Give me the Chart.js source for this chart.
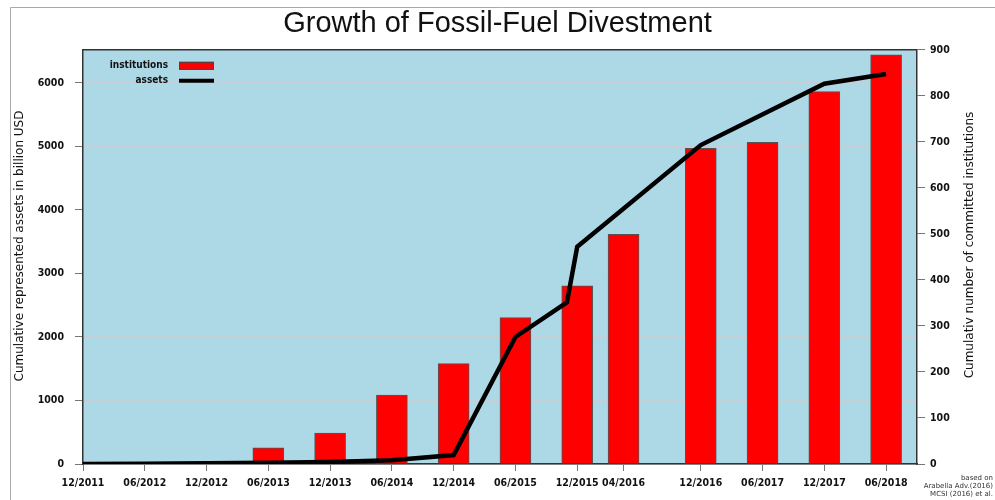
<!DOCTYPE html>
<html>
<head>
<meta charset="utf-8">
<script src="https://cdn.jsdelivr.net/npm/chart.js@4.4.1/dist/chart.umd.min.js"></script>
<style>
  body { margin: 0; background: #fff; }
  canvas { display: block; }
</style>
</head>
<body>
<canvas id="grafico" width="995" height="500"></canvas>
<script>
// months counted from 12/2011
const tickMonths = [0, 6, 12, 18, 24, 30, 36, 42, 48, 52.5, 60, 66, 72, 78];
const tickLabels = ["12/2011", "06/2012", "12/2012", "06/2013", "12/2013", "06/2014", "12/2014",
                    "06/2015", "12/2015", "04/2016", "12/2016", "06/2017", "12/2017", "06/2018"];

const institutionMonths = [18, 24, 30, 36, 42, 48, 52.5, 60, 66, 72, 78];
const institutions = [35, 67, 150, 218, 318, 387, 499, 686, 699, 809, 889];

const assetMonths = [0, 6, 12, 18, 24, 30, 36, 42, 47, 48, 60, 72, 78];
const assets = [0, 5, 10, 20, 30, 60, 140, 2000, 2545, 3420, 5020, 5985, 6140];

const assetTicks = [0, 1000, 2000, 3000, 4000, 5000, 6000];
const institutionTicks = [0, 100, 200, 300, 400, 500, 600, 700, 800, 900];

const tituloEsq = "Cumulative represented assets in billion USD";
const tituloDir = "Cumulativ number of committed institutions";

const fonteTicks = { family: "'DejaVu Sans Condensed', 'DejaVu Sans'", size: 10.5, weight: "bold" };

const pontos = (xs, ys) => xs.map((x, i) => ({ x: x, y: ys[i] }));

// background, frame, axis titles and legend
const decoracao = {
    id: "decoracao",
    beforeDraw(chart) {
        const { ctx, chartArea: a } = chart;
        ctx.save();
        ctx.fillStyle = "#add8e6";
        ctx.fillRect(a.left, a.top, a.right - a.left, a.bottom - a.top);
        ctx.strokeStyle = "#aaa";
        ctx.lineWidth = 1;
        ctx.beginPath();
        ctx.moveTo(10.5, 500);
        ctx.lineTo(10.5, 7.5);
        ctx.lineTo(995, 7.5);
        ctx.stroke();
        ctx.restore();
    },
    afterDraw(chart) {
        const { ctx, chartArea: a } = chart;
        const ds = chart.data.datasets;
        ctx.save();
        ctx.strokeStyle = "#333";
        ctx.lineWidth = 1.5;
        ctx.beginPath();
        ctx.moveTo(a.left, a.top);
        ctx.lineTo(a.right, a.top);
        ctx.stroke();

        // axis titles
        ctx.font = "12px 'DejaVu Sans'";
        ctx.fillStyle = "#111";
        ctx.textAlign = "center";
        ctx.textBaseline = "middle";
        ctx.save();
        ctx.translate(20, 246);
        ctx.rotate(-Math.PI / 2);
        ctx.fillText(tituloEsq, 0, 0);
        ctx.restore();
        ctx.save();
        ctx.translate(970, 245);
        ctx.rotate(-Math.PI / 2);
        ctx.fillText(tituloDir, 0, 0);
        ctx.restore();

        // legend
        ctx.font = "bold 10px 'DejaVu Sans Condensed', 'DejaVu Sans'";
        ctx.textAlign = "right";
        ctx.fillText(ds[1].label, a.left + 85, a.top + 16);
        ctx.fillText(ds[0].label, a.left + 85, a.top + 31);
        ctx.fillStyle = ds[1].backgroundColor;
        ctx.fillRect(a.left + 96, a.top + 12, 35, 8);
        ctx.strokeStyle = "#444";
        ctx.lineWidth = 1;
        ctx.strokeRect(a.left + 96.5, a.top + 12.5, 34, 7);
        ctx.strokeStyle = ds[0].borderColor;
        ctx.lineWidth = 4;
        ctx.beginPath();
        ctx.moveTo(a.left + 96, a.top + 31);
        ctx.lineTo(a.left + 131, a.top + 31);
        ctx.stroke();

        // source note
        ctx.font = "7px 'DejaVu Sans'";
        ctx.fillStyle = "#333";
        ctx.fillText("based on", 993, 478);
        ctx.fillText("Arabella Adv.(2016)", 993, 486);
        ctx.fillText("MCSI (2016) et al.", 993, 494);
        ctx.restore();
    }
};

new Chart(document.getElementById("grafico"), {
    type: "bar",
    data: {
        datasets: [
            {
                type: "line",
                label: "assets",
                data: pontos(assetMonths, assets),
                yAxisID: "y",
                borderColor: "#000",
                borderWidth: 4.5,
                pointRadius: 0,
                tension: 0,
                order: 0
            },
            {
                type: "bar",
                label: "institutions",
                data: pontos(institutionMonths, institutions),
                yAxisID: "y1",
                backgroundColor: "#ff0000",
                borderColor: "#555",
                borderWidth: 1,
                barThickness: 31,
                order: 1
            }
        ]
    },
    options: {
        responsive: false,
        animation: false,
        layout: { padding: 0 },
        plugins: {
            legend: { display: false },
            tooltip: { enabled: false },
            title: {
                display: true,
                text: "Growth of Fossil-Fuel Divestment",
                color: "#111",
                font: { family: "'Liberation Sans', Arial", size: 29, weight: "normal" },
                padding: { top: 7, bottom: 8 }
            }
        },
        scales: {
            x: {
                type: "linear",
                min: 0,
                max: 81,
                offset: false,
                afterBuildTicks: s => { s.ticks = tickMonths.map(v => ({ value: v })); },
                afterFit: s => { s.height = 36; },
                ticks: {
                    autoSkip: false,
                    maxRotation: 0,
                    color: "#111",
                    font: fonteTicks,
                    padding: 6,
                    callback: (v, i) => tickLabels[i]
                },
                grid: { offset: false, drawOnChartArea: false, tickLength: 7, color: "#777" },
                border: { color: "#333", width: 1.5 }
            },
            y: {
                position: "left",
                min: 0,
                max: 6520,
                afterBuildTicks: s => { s.ticks = assetTicks.map(v => ({ value: v })); },
                afterFit: s => { s.width = 83; },
                ticks: { color: "#111", font: fonteTicks, padding: 11, callback: v => String(v) },
                grid: { color: "rgba(200,205,210,0.9)", tickColor: "#777", tickLength: 8 },
                border: { color: "#333", width: 1.5 }
            },
            y1: {
                position: "right",
                min: 0,
                max: 900,
                afterBuildTicks: s => { s.ticks = institutionTicks.map(v => ({ value: v })); },
                afterFit: s => { s.width = 78; },
                ticks: { color: "#111", font: fonteTicks, padding: 5, callback: v => String(v) },
                grid: { drawOnChartArea: false, color: "#777", tickLength: 8 },
                border: { color: "#333", width: 1.5 }
            }
        }
    },
    plugins: [decoracao]
});
</script>
</body>
</html>
